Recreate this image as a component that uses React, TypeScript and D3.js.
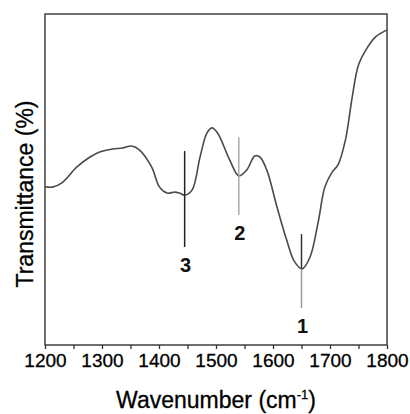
import React, { useEffect, useRef } from 'react'
import * as d3 from 'd3'

// spectrum (wavenumber, arbitrary transmittance)
const wavenumbers = [1200, 1213, 1229, 1256, 1279, 1296, 1319, 1336, 1352, 1366, 1387, 1401, 1414, 1428, 1436, 1445, 1458, 1472, 1484, 1493, 1503, 1524, 1540, 1554, 1568, 1577, 1589, 1607, 1624, 1638, 1651, 1665, 1679, 1691, 1704, 1714, 1727, 1739, 1750, 1766, 1780, 1800]
const transmittance = [47.8, 47.7, 48.9, 53.8, 56.8, 58.3, 59.2, 59.5, 60.1, 58.9, 53.8, 47.7, 45.9, 46.2, 45.9, 45.3, 46.8, 56.8, 64.0, 65.6, 64.0, 55.9, 51.1, 52.9, 57.1, 56.8, 52.9, 41.7, 31.7, 25.1, 23.0, 26.6, 36.9, 47.7, 52.3, 54.4, 61.9, 74.9, 84.6, 90.0, 93.1, 95.2]

const xTicks = [1200, 1300, 1400, 1500, 1600, 1700, 1800]
const xMinorTicks = [1250, 1350, 1450, 1550, 1650, 1750]

// band markers: position, line top, line bottom, label
const bandLabels = ['1', '2', '3']
const bandPositions = [1650, 1540, 1445]
const bandTops = [33.5, 62.8, 58.6]
const bandBottoms = [11.2, 39.3, 29.6]

const width = 410
const height = 414
const margins = { left: 45, right: 23, top: 14, bottom: 69 }
const font = 'Arial, "Liberation Sans", sans-serif'

const App = () => {
  const d3Ref = useRef(null)

  useEffect(() => {
    const svg = d3.select(d3Ref.current)
    svg.selectAll('*').remove()

    const x = d3.scaleLinear().domain([1200, 1800]).range([margins.left, width - margins.right])
    const y = d3.scaleLinear().domain([0, 100]).range([height - margins.bottom, margins.top])
    const data = wavenumbers.map((w, i) => [w, transmittance[i]])

    // bottom axis with outward ticks
    const axis = svg.append('g')
      .attr('transform', `translate(0, ${height - margins.bottom})`)
    axis.call(d3.axisBottom(x).tickValues(xTicks).tickSize(4).tickFormat(d3.format('d')))
    axis.append('g').call(d3.axisBottom(x).tickValues(xMinorTicks).tickSize(4).tickFormat(() => ''))
    axis.selectAll('.domain').remove()
    axis.selectAll('line').attr('stroke', '#333').attr('stroke-width', 1.3)
    axis.selectAll('text')
      .attr('y', 9)
      .attr('fill', '#000')
      .attr('stroke', '#000')
      .attr('stroke-width', 0.3)
      .style('font-family', font)
      .style('font-size', '19px')

    // frame
    svg.append('rect')
      .attr('x', margins.left)
      .attr('y', margins.top)
      .attr('width', width - margins.left - margins.right)
      .attr('height', height - margins.top - margins.bottom)
      .attr('fill', 'none')
      .attr('stroke', '#333')
      .attr('stroke-width', 1.4)

    // spectrum
    svg.append('path')
      .datum(data)
      .attr('fill', 'none')
      .attr('stroke', '#4a4a4a')
      .attr('stroke-width', 1.6)
      .attr('d', d3.line().x(d => x(d[0])).y(d => y(d[1])).curve(d3.curveCatmullRom.alpha(0.5)))

    // band markers
    bandPositions.forEach((pos, i) => {
      const g = svg.append('g')
      if (i === 0) {
        // dark above the minimum, light below
        const mid = transmittance[wavenumbers.indexOf(1651)]
        g.append('line').attr('x1', x(pos)).attr('x2', x(pos)).attr('y1', y(bandTops[i])).attr('y2', y(mid))
          .attr('stroke', '#333').attr('stroke-width', 1.5)
        g.append('line').attr('x1', x(pos)).attr('x2', x(pos)).attr('y1', y(mid)).attr('y2', y(bandBottoms[i]))
          .attr('stroke', '#999').attr('stroke-width', 1.5)
      } else {
        g.append('line').attr('x1', x(pos)).attr('x2', x(pos)).attr('y1', y(bandTops[i])).attr('y2', y(bandBottoms[i]))
          .attr('stroke', i === 1 ? '#aaa' : '#222').attr('stroke-width', 1.5)
      }
      g.append('text')
        .attr('x', x(pos) + 1)
        .attr('y', y(bandBottoms[i]) + 25)
        .attr('text-anchor', 'middle')
        .attr('fill', '#111')
        .style('font-family', font)
        .style('font-size', '20px')
        .style('font-weight', 'bold')
        .text(bandLabels[i])
    })

    // axis titles
    const xt = svg.append('text')
      .attr('x', (margins.left + width - margins.right) / 2)
      .attr('y', 408)
      .attr('text-anchor', 'middle')
      .attr('fill', '#000')
      .attr('stroke', '#000')
      .attr('stroke-width', 0.3)
      .style('font-family', font)
      .style('font-size', '23px')
    xt.append('tspan').text('Wavenumber (cm')
    xt.append('tspan').attr('dy', -9).style('font-size', '13px').text('-1')
    xt.append('tspan').attr('dy', 9).text(')')

    svg.append('text')
      .attr('transform', `translate(33, 194) rotate(-90)`)
      .attr('text-anchor', 'middle')
      .attr('fill', '#000')
      .attr('stroke', '#000')
      .attr('stroke-width', 0.3)
      .style('font-family', font)
      .style('font-size', '23px')
      .text('Transmittance (%)')
  }, [])

  return (
    <svg ref={d3Ref} width={width} height={height}
      style={{ position: 'absolute', left: 0, top: 0, background: '#fff' }} />
  )
}

export default App
